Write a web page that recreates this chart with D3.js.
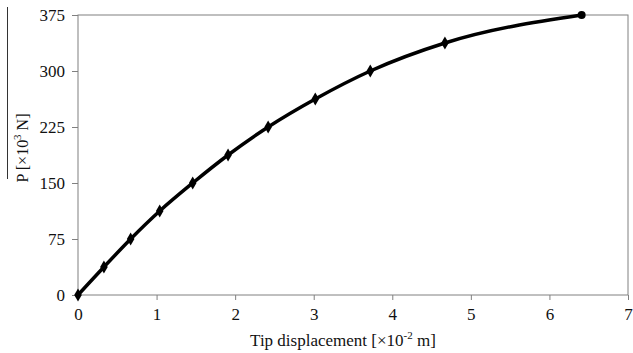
<!DOCTYPE html>
<html>
<head>
<meta charset="utf-8">
<script src="https://cdn.jsdelivr.net/npm/d3@7"></script>
<style>
  body { margin: 0; background: #fff; }
  text { font-family: "Liberation Serif", "Times New Roman", serif; fill: #111; }
</style>
</head>
<body>
<div id="chart"></div>
<script>
// tip displacement [x10^-2 m]
var displacement = [0, 0.33, 0.67, 1.04, 1.46, 1.91, 2.42, 3.02, 3.72, 4.67, 6.41];
// load P [x10^3 N]
var load = [0, 37.5, 75, 112.5, 150, 187.5, 225, 262.5, 300, 337.5, 375];
var xTicks = [0, 1, 2, 3, 4, 5, 6, 7];
var yTicks = [0, 75, 150, 225, 300, 375];

var W = 633, H = 353;
var margin = { top: 15, right: 5, bottom: 58, left: 78 };
var width = W - margin.left - margin.right,
    height = H - margin.top - margin.bottom;

var svg = d3.select('#chart').append('svg')
    .attr('width', W)
    .attr('height', H);

var g = svg.append('g')
    .attr('transform', 'translate(' + margin.left + ',' + margin.top + ')');

var x = d3.scaleLinear().domain([0, 7]).range([0, width]);
var y = d3.scaleLinear().domain([0, 375]).range([height, 0]);

// plot frame
g.append('rect')
    .attr('x', 0).attr('y', 0)
    .attr('width', width).attr('height', height)
    .style('fill', 'none')
    .style('stroke', '#808080')
    .style('stroke-width', 1);

var xAxis = g.append('g')
    .attr('transform', 'translate(0,' + height + ')')
    .call(d3.axisBottom(x).tickValues(xTicks).tickFormat(d3.format('d')).tickSize(5).tickPadding(8));

var yAxis = g.append('g')
    .call(d3.axisLeft(y).tickValues(yTicks).tickFormat(d3.format('d')).tickSize(6).tickPadding(7));

[xAxis, yAxis].forEach(function(a) {
    a.select('.domain').remove();
    a.selectAll('line').style('stroke', '#808080');
    a.selectAll('text')
        .style('font-family', '"Liberation Serif", serif')
        .style('font-size', '17px')
        .style('fill', '#111');
});

var pts = displacement.map(function(d, i) { return [d, load[i]]; });

var line = d3.line()
    .x(function(d) { return x(d[0]); })
    .y(function(d) { return y(d[1]); })
    .curve(d3.curveMonotoneX);

g.append('path')
    .datum(pts)
    .attr('d', line)
    .style('fill', 'none')
    .style('stroke', '#000')
    .style('stroke-width', 3.5)
    .style('stroke-linejoin', 'round');

// diamond markers, last point drawn as a dot
g.selectAll('.mk')
    .data(pts)
    .enter().append('path')
    .attr('class', 'mk')
    .attr('transform', function(d) { return 'translate(' + x(d[0]) + ',' + y(d[1]) + ')'; })
    .attr('d', function(d, i) {
        return i === pts.length - 1
            ? d3.symbol().type(d3.symbolCircle).size(50)()
            : d3.symbol().type(d3.symbolDiamond).size(50)();
    })
    .style('fill', '#000');

// axis titles
var xt = svg.append('text')
    .attr('x', 343)
    .attr('y', 346)
    .attr('text-anchor', 'middle')
    .style('font-size', '17px');
xt.append('tspan').text('Tip displacement [\u00d710');
xt.append('tspan').attr('dy', -7).style('font-size', '11px').text('-2');
xt.append('tspan').attr('dy', 7).text(' m]');

var yt = svg.append('text')
    .attr('transform', 'translate(28,148) rotate(-90)')
    .attr('text-anchor', 'middle')
    .style('font-size', '16px');
yt.append('tspan').text('P [\u00d710');
yt.append('tspan').attr('dy', -7).style('font-size', '11px').text('3');
yt.append('tspan').attr('dy', 7).text(' N]');

// thin vertical rule at far left (scan artefact in the source)
svg.append('line')
    .attr('x1', 7.5).attr('x2', 7.5)
    .attr('y1', 7).attr('y2', 179)
    .style('stroke', '#333')
    .style('stroke-width', 1);
</script>
</body>
</html>
